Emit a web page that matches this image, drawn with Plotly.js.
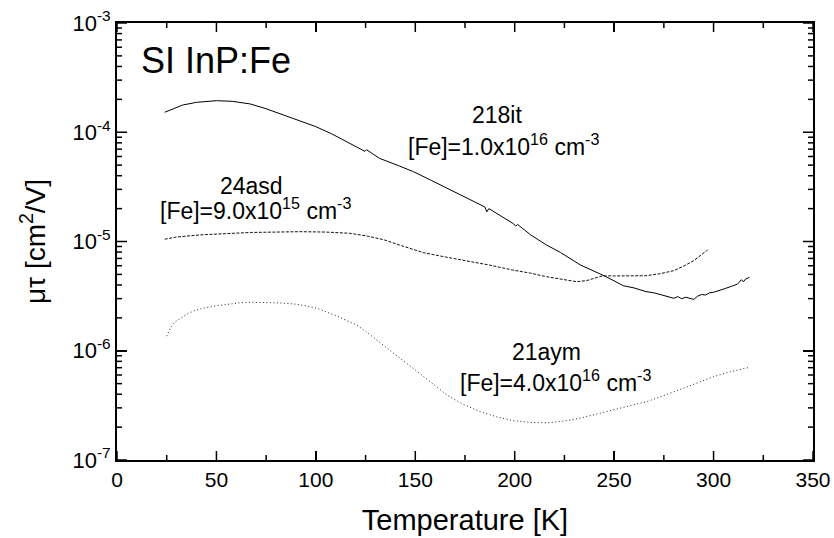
<!DOCTYPE html>
<html>
<head>
<meta charset="utf-8">
<script src="https://cdn.plot.ly/plotly-3.0.1.min.js"></script>
<style>html,body{margin:0;padding:0;background:#fff;}#chart{width:834px;height:538px;}</style>
</head>
<body>
<div id="chart"></div>
<script>
// Sample 218it (solid)
const T_218it = [24, 28, 33, 40, 50, 58, 67, 75, 84, 92, 100, 108, 117, 122, 124.7, 125.5, 132, 142, 149, 158, 166, 174, 182.5, 185, 186, 187, 199, 200.5, 201.5, 208, 216, 223, 233, 243, 246, 254.6, 260, 266, 270, 274, 278, 280, 282, 284, 286, 288, 290, 292, 294, 296, 298, 300, 303, 306, 309, 312, 314, 315, 316, 318];
const mt_218it = [1.524e-4, 1.641e-4, 1.774e-4, 1.879e-4, 1.945e-4, 1.919e-4, 1.816e-4, 1.641e-4, 1.439e-4, 1.274e-4, 1.125e-4, 9.66e-5, 7.93e-5, 7.16e-5, 6.68e-5, 6.92e-5, 5.77e-5, 4.91e-5, 4.36e-5, 3.63e-5, 3.07e-5, 2.57e-5, 2.16e-5, 2.07e-5, 1.87e-5, 2.00e-5, 1.47e-5, 1.39e-5, 1.43e-5, 1.15e-5, 9.29e-6, 7.94e-6, 6.10e-6, 5.05e-6, 4.76e-6, 3.94e-6, 3.76e-6, 3.48e-6, 3.39e-6, 3.24e-6, 3.09e-6, 3.02e-6, 3.13e-6, 2.99e-6, 3.09e-6, 3.02e-6, 2.95e-6, 3.16e-6, 3.27e-6, 3.24e-6, 3.39e-6, 3.43e-6, 3.55e-6, 3.72e-6, 3.89e-6, 4.07e-6, 4.47e-6, 4.27e-6, 4.52e-6, 4.70e-6];

// Sample 24asd (dashed)
const T_24asd = [24, 30, 42, 55, 67, 80, 92, 105, 117, 126, 134, 142, 148, 154, 164, 174, 187, 199, 208, 216, 224, 231, 236, 240, 244, 250, 258, 266, 273, 280, 285, 290, 294, 297];
const mt_24asd = [1.05e-5, 1.10e-5, 1.15e-5, 1.18e-5, 1.21e-5, 1.22e-5, 1.23e-5, 1.22e-5, 1.19e-5, 1.12e-5, 1.04e-5, 9.29e-6, 8.51e-6, 7.91e-6, 7.28e-6, 6.78e-6, 6.10e-6, 5.48e-6, 5.13e-6, 4.76e-6, 4.52e-6, 4.29e-6, 4.38e-6, 4.62e-6, 4.84e-6, 4.84e-6, 4.84e-6, 4.86e-6, 5.07e-6, 5.41e-6, 5.96e-6, 6.67e-6, 7.59e-6, 8.36e-6];

// Sample 21aym (dotted)
const T_21aym = [25, 26.7, 28.5, 31.7, 35, 38.4, 44, 50, 56, 62, 68, 75, 82, 89, 95, 100.4, 105, 110.5, 115, 120.5, 125, 130.6, 136, 142.3, 149, 157, 165.8, 174, 182.5, 191, 199.3, 208, 216, 224, 232.8, 241, 249.6, 258, 266.3, 275, 283, 291, 300, 309, 318];
const mt_21aym = [1.36e-6, 1.60e-6, 1.80e-6, 1.98e-6, 2.16e-6, 2.31e-6, 2.47e-6, 2.58e-6, 2.68e-6, 2.75e-6, 2.78e-6, 2.77e-6, 2.74e-6, 2.68e-6, 2.58e-6, 2.45e-6, 2.29e-6, 2.08e-6, 1.91e-6, 1.72e-6, 1.51e-6, 1.25e-6, 1.04e-6, 8.53e-7, 6.90e-7, 5.25e-7, 3.94e-7, 3.24e-7, 2.77e-7, 2.48e-7, 2.29e-7, 2.21e-7, 2.19e-7, 2.26e-7, 2.41e-7, 2.63e-7, 2.87e-7, 3.13e-7, 3.42e-7, 3.89e-7, 4.38e-7, 5.01e-7, 5.79e-7, 6.46e-7, 7.05e-7];

// Axis ticks
const xTickVals = [0, 50, 100, 150, 200, 250, 300, 350];
const xMinorVals = [25, 75, 125, 175, 225, 275, 325];
const yTickVals = [1e-7, 1e-6, 1e-5, 1e-4, 1e-3];
const yTickText = ['10<sup>-7</sup>', '10<sup>-6</sup>', '10<sup>-5</sup>', '10<sup>-4</sup>', '10<sup>-3</sup>'];
const yMinorDigits = [2, 3, 4, 5, 6, 7, 8, 9];

const yMinorVals = [];
yTickVals.slice(0, 4).forEach(d => yMinorDigits.forEach(k => yMinorVals.push(d * k)));

const FONT = 'Liberation Sans, Arial, sans-serif';

// Inside tick marks on all four sides, built from the tick arrays.
// Lengths are given as fractions of the plot area (437 px tall, 696 px wide).
const W = 834, H = 538, M = {l: 117, r: 21, t: 23, b: 78};
const plotW = W - M.l - M.r, plotH = H - M.t - M.b;
const tickLine = {color: 'black', width: 1.5};
const shapes = [];
function xTick(v, len) {
  const f = len / plotH;
  shapes.push({type: 'line', layer: 'above', xref: 'x', yref: 'paper', x0: v, x1: v, y0: 0, y1: f, line: tickLine});
  shapes.push({type: 'line', layer: 'above', xref: 'x', yref: 'paper', x0: v, x1: v, y0: 1, y1: 1 - f, line: tickLine});
}
function yTick(v, len) {
  const f = len / plotW;
  shapes.push({type: 'line', layer: 'above', xref: 'paper', yref: 'y', x0: 0, x1: f, y0: v, y1: v, line: tickLine});
  shapes.push({type: 'line', layer: 'above', xref: 'paper', yref: 'y', x0: 1, x1: 1 - f, y0: v, y1: v, line: tickLine});
}
xTickVals.forEach(v => xTick(v, 9));
xMinorVals.forEach(v => xTick(v, 5));
yTickVals.forEach(v => yTick(v, 10));
yMinorVals.forEach(v => yTick(v, 5));

const traces = [
  {x: T_218it, y: mt_218it, type: 'scatter', mode: 'lines', name: '218it', line: {color: '#000', width: 1}},
  {x: T_24asd, y: mt_24asd, type: 'scatter', mode: 'lines', name: '24asd', line: {color: '#111', width: 1, dash: '3px,1.5px'}},
  {x: T_21aym, y: mt_21aym, type: 'scatter', mode: 'lines', name: '21aym', line: {color: '#222', width: 1, dash: '1px,2.5px'}}
];

const annFont = {family: FONT, size: 23, color: '#000'};

const layout = {
  width: W, height: H,
  margin: M,
  paper_bgcolor: '#fff', plot_bgcolor: '#fff',
  showlegend: false,
  font: {family: FONT, color: '#000', size: 21},
  xaxis: {
    range: [0, 350], tickmode: 'array', tickvals: xTickVals,
    ticks: 'inside', ticklen: 9, tickwidth: 1.5, tickcolor: 'black',
    showline: true, linecolor: 'black', linewidth: 2, mirror: 'allticks', showgrid: false, zeroline: false,
    tickfont: {family: FONT, size: 21, color: '#000'},
    title: {text: 'Temperature [K]', font: {family: FONT, size: 29, color: '#000'}, standoff: 19}
  },
  yaxis: {
    type: 'log', range: [-7, -3], tickmode: 'array', tickvals: yTickVals, ticktext: yTickText,
    ticks: 'inside', ticklen: 10, tickwidth: 1.5, tickcolor: 'black',
    showline: true, linecolor: 'black', linewidth: 2, mirror: 'allticks', showgrid: false, zeroline: false,
    tickfont: {family: FONT, size: 22, color: '#000'},
    title: {text: 'μτ [cm<sup>2</sup>/V]', font: {family: FONT, size: 28, color: '#000'}, standoff: 19}
  },
  shapes: shapes,
  annotations: [
    {text: 'SI InP:Fe', x: 11, y: Math.log10(4.49e-4), xref: 'x', yref: 'y', xanchor: 'left', showarrow: false, font: {family: FONT, size: 36, color: '#000'}},
    {text: '218it', x: 191, y: Math.log10(1.44e-4), xref: 'x', yref: 'y', showarrow: false, font: annFont},
    {text: '[Fe]=1.0x10<sup>16</sup> cm<sup>-3</sup>', x: 194.6, y: Math.log10(7.6e-5), xref: 'x', yref: 'y', showarrow: false, font: annFont},
    {text: '24asd', x: 67.4, y: Math.log10(3.2e-5), xref: 'x', yref: 'y', showarrow: false, font: annFont},
    {text: '[Fe]=9.0x10<sup>15</sup> cm<sup>-3</sup>', x: 69.4, y: Math.log10(2.0e-5), xref: 'x', yref: 'y', showarrow: false, font: annFont},
    {text: '21aym', x: 216.2, y: Math.log10(9.7e-7), xref: 'x', yref: 'y', showarrow: false, font: annFont},
    {text: '[Fe]=4.0x10<sup>16</sup> cm<sup>-3</sup>', x: 220.3, y: Math.log10(5.25e-7), xref: 'x', yref: 'y', showarrow: false, font: annFont}
  ]
};

Plotly.newPlot('chart', traces, layout, {staticPlot: true, displayModeBar: false});
</script>
</body>
</html>
